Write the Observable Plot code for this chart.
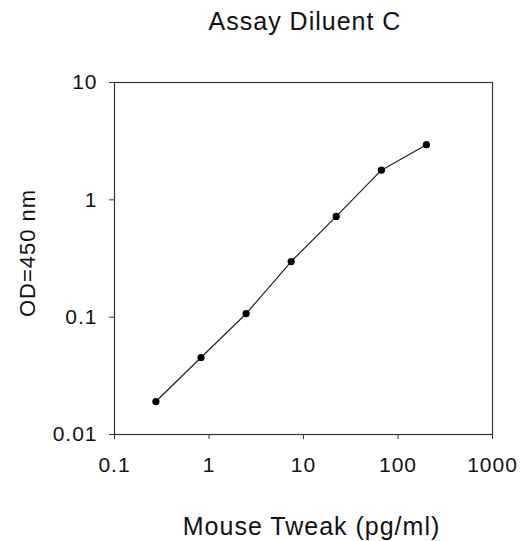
<!DOCTYPE html>
<html>
<head>
<meta charset="utf-8">
<script src="https://cdn.jsdelivr.net/npm/d3@7"></script>
<script src="https://cdn.jsdelivr.net/npm/@observablehq/plot@0.6"></script>
<style>
  html, body { margin: 0; padding: 0; background: #fff; }
</style>
</head>
<body>
<div id="chart"></div>
<script>
// Data
const concentration = [0.274, 0.823, 2.47, 7.41, 22.2, 66.7, 200]; // pg/ml
const od450 = [0.0191, 0.0453, 0.107, 0.298, 0.722, 1.79, 2.95];
const xTicks = [0.1, 1, 10, 100, 1000];
const yTicks = [0.01, 0.1, 1, 10];
const xTickLabels = ["0.1", "1", "10", "100", "1000"];
const yTickLabels = ["0.01", "0.1", "1", "10"];
const titleText = "Assay Diluent C";
const xLabelText = "Mouse Tweak (pg/ml)";
const yLabelText = "OD=450 nm";

const data = concentration.map((c, i) => ({x: c, y: od450[i]}));

const chart = Plot.plot({
  width: 522,
  height: 541,
  marginLeft: 114,
  marginRight: 30,
  marginTop: 82,
  marginBottom: 107,
  style: {fontFamily: "'Liberation Sans', Arial, sans-serif", color: "#111", background: "#fff", letterSpacing: "1px"},
  x: {type: "log", domain: [0.1, 1000], axis: null},
  y: {type: "log", domain: [0.01, 10], axis: null},
  marks: [
    Plot.frame({stroke: "#333", strokeWidth: 1.2}),
    Plot.axisX({
      ticks: xTicks,
      tickFormat: (d) => xTickLabels[xTicks.indexOf(d)],
      tickSize: 5,
      tickPadding: 18,
      fontSize: 21,
      stroke: "#333",
      fill: "#111",
      label: null
    }),
    Plot.axisY({
      ticks: yTicks,
      tickFormat: (d) => yTickLabels[yTicks.indexOf(d)],
      tickSize: 5,
      tickPadding: 12,
      fontSize: 21,
      stroke: "#333",
      fill: "#111",
      label: null
    }),
    Plot.line(data, {x: "x", y: "y", stroke: "#222", strokeWidth: 1.2}),
    Plot.dot(data, {x: "x", y: "y", r: 3.6, fill: "#000", stroke: "none"}),
    Plot.text([titleText], {frameAnchor: "top", textAnchor: "middle", lineAnchor: "bottom", dy: -53, dx: 1.5, fontSize: 25, fill: "#111", text: (d) => d}),
    Plot.text([xLabelText], {frameAnchor: "bottom", textAnchor: "middle", lineAnchor: "bottom", dy: 100, dx: 8, fontSize: 25, fill: "#111", text: (d) => d}),
    Plot.text([yLabelText], {frameAnchor: "left", textAnchor: "middle", lineAnchor: "bottom", rotate: -90, dx: -80, dy: -5.5, fontSize: 22, fill: "#111", text: (d) => d})
  ]
});

document.getElementById("chart").appendChild(chart);
</script>
</body>
</html>
